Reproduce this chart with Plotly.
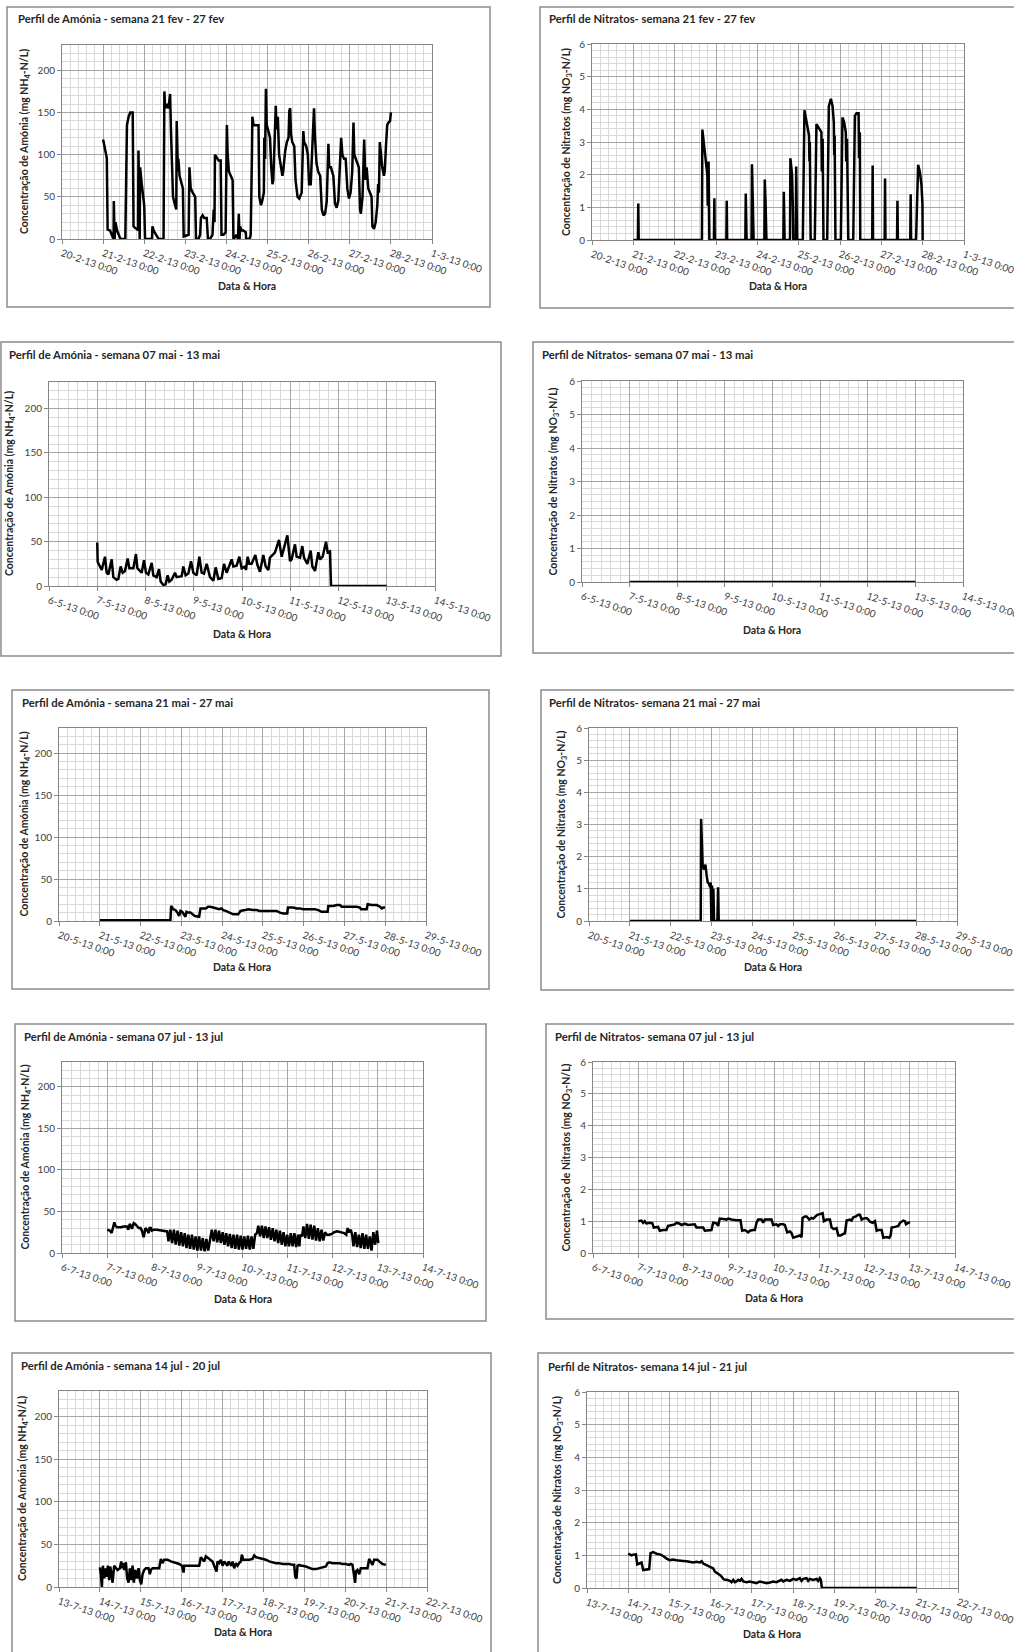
import plotly.graph_objects as go
import pandas as pd

W, H = 1014, 1652

# ------------------------------------------------------------------ data
TITLES = [
    "Perfil de Amónia - semana 21 fev - 27 fev",
    "Perfil de Nitratos- semana 21 fev - 27 fev",
    "Perfil de Amónia - semana 07 mai - 13 mai",
    "Perfil de Nitratos- semana 07 mai - 13 mai",
    "Perfil de Amónia - semana 21 mai - 27 mai",
    "Perfil de Nitratos- semana 21 mai - 27 mai",
    "Perfil de Amónia - semana 07 jul - 13 jul",
    "Perfil de Nitratos- semana 07 jul - 13 jul",
    "Perfil de Amónia - semana 14 jul - 20 jul",
    "Perfil de Nitratos- semana 14 jul - 21 jul",
]
START_DATES = ["2013-02-20", "2013-02-20", "2013-05-06", "2013-05-06", "2013-05-20",
               "2013-05-20", "2013-07-06", "2013-07-06", "2013-07-13", "2013-07-13"]
SPAN_DAYS = [9, 9, 8, 8, 9, 9, 8, 8, 9, 9]
KINDS = ["nh4", "no3"] * 5

Y_LABEL = {"nh4": "Concentração de Amónia (mg NH<sub>4</sub>-N/L)",
           "no3": "Concentração de Nitratos (mg NO<sub>3</sub>-N/L)"}
X_LABEL = "Data & Hora"
Y_SCALE = {"nh4": dict(top=230, major=50, minor=10),
           "no3": dict(top=6, major=1, minor=0.2)}
X_TICK_FORMAT = "%-d-%-m-%y %-H:%M"

# day offsets from the panel start date, and concentrations
nh4_feb_days = [1.00,1.09,1.11,1.17,1.21,1.255,1.26,1.28,1.30,1.34,
                1.38,1.42,1.54,1.55,1.58,1.62,1.66,1.72,1.74,1.78,
                1.82,1.85,1.86,1.89,1.90,1.94,2.00,2.02,2.19,2.20,
                2.23,2.29,2.35,2.47,2.49,2.51,2.55,2.59,2.63,2.65,
                2.67,2.70,2.75,2.78,2.79,2.82,2.83,2.86,2.91,2.94,
                2.96,3.08,3.10,3.13,3.18,3.24,3.26,3.32,3.36,3.38,
                3.42,3.46,3.52,3.55,3.60,3.66,3.69,3.71,3.72,3.77,
                3.81,3.86,3.88,3.93,3.98,4.01,4.03,4.06,4.11,4.15,
                4.17,4.21,4.25,4.28,4.30,4.32,4.33,4.37,4.41,4.47,
                4.48,4.56,4.59,4.62,4.63,4.66,4.75,4.78,4.80,4.84,
                4.87,4.91,4.92,4.94,4.96,4.98,5.02,5.06,5.09,5.12,
                5.14,5.20,5.22,5.25,5.28,5.32,5.36,5.38,5.43,5.47,
                5.51,5.53,5.55,5.57,5.60,5.65,5.68,5.73,5.77,5.83,
                5.85,5.87,5.89,5.94,5.98,6.01,6.05,6.09,6.13,6.15,
                6.19,6.23,6.28,6.32,6.36,6.40,6.44,6.48,6.50,6.54,
                6.57,6.60,6.64,6.68,6.72,6.76,6.79,6.82,6.86,6.90,
                6.94,6.98,7.02,7.06,7.09,7.11,7.15,7.19,7.22,7.25,
                7.27,7.31,7.35,7.38,7.41,7.45,7.49,7.53,7.55,7.59,
                7.63,7.67,7.69,7.71,7.73,7.76,7.79,7.83,7.85,7.88,
                7.91,7.94,7.98,8.00]
nh4_feb = [118,96,11,10,5,0,45,0,20,10,
           5,0,0,38,135,145,150,150,15,13,
           12,10,105,0,85,65,40,0,0,15,
           10,5,0,0,175,155,160,155,172,130,
           80,50,40,35,140,80,95,75,65,60,
           3,5,85,60,55,50,0,0,5,25,
           28,25,25,0,0,5,35,20,100,95,
           93,93,5,5,8,135,100,80,75,70,
           0,3,5,0,30,0,15,10,10,8,
           0,0,5,100,145,135,135,135,50,40,
           45,55,120,95,178,135,128,120,85,65,
           70,158,130,145,100,85,75,80,105,115,
           120,152,155,125,115,110,70,50,48,55,
           85,128,115,110,100,65,65,105,155,125,
           90,80,75,35,28,30,45,113,85,85,
           80,75,42,37,45,85,120,100,95,95,
           60,48,55,80,138,100,95,90,85,35,
           30,50,118,70,85,60,55,50,15,12,
           20,40,65,55,115,95,85,75,80,110,
           135,138,140,150]

no3_feb_days = [1.00,1.11,1.12,1.13,
                2.66,2.67,2.72,2.76,2.79,2.80,2.82,2.84,
                2.95,2.96,2.97, 3.25,3.26,3.27, 3.71,3.72,3.74,
                3.86,3.87,3.89,3.91, 4.17,4.18,4.20,4.22, 4.63,4.64,4.66,
                4.79,4.80,4.84,4.86,4.87, 4.93,4.94,4.96,
                5.10,5.14,5.19,5.23,5.25,5.26,5.27,5.29,
                5.39,5.43,5.47,5.51,5.55,5.56,5.58,5.60,
                5.69,5.73,5.78,5.82,5.85,5.86,5.87,5.89,
                6.02,6.06,6.10,6.14,6.15,6.17,6.20,
                6.32,6.36,6.40,6.45,6.46,6.48,6.49,
                6.78,6.79,6.80, 7.08,7.09,7.10, 7.38,7.39,7.40, 7.70,7.71,7.72,
                7.84,7.89,7.93,7.97,7.995,8.00]
no3_feb = [0,0,1.12,0,
           0,3.38,2.8,2.3,2.0,1.05,2.4,0,
           0,1.28,0, 0,1.2,0, 0,1.42,0,
           0,2.32,1.2,0, 0,1.85,1.1,0, 0,1.48,0,
           0,2.5,2.0,1.0,0, 0,2.25,0,
           0,3.97,3.6,3.4,3.2,2.4,3.0,0,
           0,3.55,3.45,3.4,3.3,2.1,3.1,0,
           0,4.1,4.32,4.1,3.6,2.6,3.2,0,
           0,3.75,3.6,3.3,2.4,3.1,0,
           0,3.8,3.88,3.88,2.5,3.3,0,
           0,2.28,0, 0,1.88,0, 0,1.2,0, 0,1.4,0,
           0,2.3,2.1,1.7,1.1,0]

nh4_may07_days = [1.00,1.009,1.057,1.092,1.161,1.195,1.230,1.299,1.333,1.402,
                  1.437,1.485,1.527,1.575,1.630,1.665,1.748,1.803,1.831,1.886,
                  1.921,1.969,2.010,2.059,2.128,2.162,2.231,2.280,2.314,2.370,
                  2.418,2.459,2.494,2.542,2.611,2.646,2.750,2.784,2.832,2.888,
                  2.943,2.991,3.060,3.116,3.164,3.212,3.268,3.337,3.406,3.454,
                  3.510,3.579,3.627,3.682,3.786,3.820,3.889,3.945,3.993,4.062,
                  4.083,4.117,4.152,4.200,4.276,4.318,4.373,4.442,4.491,4.546,
                  4.580,4.636,4.684,4.767,4.822,4.940,4.995,5.029,5.098,5.133,
                  5.202,5.250,5.285,5.354,5.423,5.458,5.513,5.582,5.617,5.672,
                  5.741,5.775,5.824,5.845,6.998]
nh4_may07 = [49,27,22,18,33,15,13,30,10,7,
             8,22,15,17,31,20,20,36,20,17,
             15,29,15,13,26,12,10,19,5,1,
             2,12,5,7,15,10,11,22,12,14,
             28,15,12,33,15,14,25,10,6,21,
             8,9,25,15,30,22,23,33,20,22,
             18,33,25,25,35,24,16,35,22,18,
             32,35,38,52,33,57,28,30,47,33,
             32,45,32,25,40,22,17,38,30,33,
             50,38,39,0,0]

no3_may07_days = [1.0, 2.0, 3.0, 4.0, 5.0, 6.0, 7.0]
no3_may07 = [0, 0, 0, 0, 0, 0, 0]

nh4_may21_days = [1.00,2.733,2.750,2.799,2.856,2.905,2.946,2.979,3.020,3.061,
                  3.101,3.126,3.167,3.224,3.273,3.331,3.437,3.470,3.535,3.601,
                  3.658,3.699,3.781,3.863,3.928,3.985,4.026,4.092,4.149,4.190,
                  4.272,4.395,4.452,4.558,4.640,4.763,4.845,4.926,5.090,5.254,
                  5.336,5.417,5.499,5.597,5.614,5.745,5.826,5.908,5.990,6.072,
                  6.154,6.277,6.358,6.440,6.588,6.604,6.727,6.808,6.890,6.931,
                  7.054,7.177,7.299,7.381,7.406,7.545,7.570,7.668,7.791,7.872,
                  7.913,7.954,7.995]
nh4_may21 = [1,1,18,14,13,10,6,12,11,7,
             5,11,10,10,8,6,5,15,15,15,
             17,17,16,15,14,15,13,12,11,10,
             8,8,12,13,14,13,13,12,12,12,
             12,10,9,9,16,16,15,15,14,14,
             14,14,13,11,11,18,18,19,19,17,
             17,17,17,16,14,14,20,19,19,17,
             15,16,16]

no3_may21_days = [1.00,2.732,2.741,2.765,2.781,2.814,2.847,2.879,2.904,2.936,
                  2.961,2.977,2.993,3.010,3.026,3.042,3.059,3.140,3.157,3.173,8.00]
no3_may21 = [0,0,3.17,2.3,1.7,1.6,1.75,1.4,1.2,1.15,
             1.05,1.2,0,1.1,0,1.0,0,0,1.05,0,0]

nh4_jul07_days = [1.00,1.06,1.10,1.13,1.16,1.18,1.22,1.30,1.37,1.44,
                  1.47,1.50,1.53,1.55,1.59,1.62,1.66,1.70,1.74,1.77,
                  1.81,1.85,1.88,1.92,1.94,1.97,1.99,2.03,2.10,2.18,
                  2.25,2.33,2.36,2.40,2.44,2.48,2.52,2.56,2.60,2.64,
                  2.68,2.72,2.76,2.80,2.84,2.88,2.92,2.96,3.00,3.04,
                  3.08,3.12,3.16,3.20,3.24,3.28,3.32,3.36,3.40,3.44,
                  3.48,3.52,3.56,3.60,3.64,3.68,3.72,3.76,3.80,3.84,
                  3.88,3.92,3.96,4.00,4.04,4.08,4.12,4.16,4.20,4.24,
                  4.28,4.32,4.35,4.39,4.43,4.47,4.51,4.55,4.59,4.63,
                  4.67,4.71,4.75,4.79,4.83,4.87,4.91,4.95,4.99,5.03,
                  5.07,5.11,5.15,5.19,5.23,5.26,5.28,5.32,5.35,5.39,
                  5.43,5.47,5.51,5.55,5.59,5.63,5.67,5.71,5.75,5.79,
                  5.83,5.87,5.92,5.98,6.03,6.10,6.18,6.25,6.30,6.33,
                  6.36,6.40,6.43,6.46,6.50,6.54,6.58,6.62,6.66,6.70,
                  6.74,6.78,6.82,6.86,6.90,6.94,6.98,7.01]
nh4_jul07 = [28,27,24,33,37,33,31,31,32,32,
             28,35,33,29,36,35,33,30,30,27,
             19,30,28,24,30,30,27,28,28,27,
             27,26,14,28,12,28,10,27,9,25,
             8,24,6,22,5,22,4,20,3,20,
             3,18,2,17,3,18,28,14,28,13,
             27,12,25,10,24,8,23,6,22,5,
             22,4,21,4,20,5,21,4,20,5,
             22,24,33,20,33,18,32,18,31,16,
             30,14,28,12,27,10,25,8,22,8,
             24,8,24,7,22,8,22,20,32,18,
             35,17,34,16,33,15,30,14,28,15,
             25,22,22,23,25,26,25,24,22,30,
             25,28,22,8,25,7,22,6,24,5,
             22,5,20,3,25,10,27,12]

no3_jul07_days = [1.00,1.069,1.106,1.143,1.180,1.254,1.313,1.342,1.438,1.475,
                  1.549,1.622,1.659,1.733,1.807,1.844,1.917,1.954,2.028,2.102,
                  2.175,2.249,2.286,2.360,2.434,2.470,2.544,2.618,2.655,2.729,
                  2.765,2.802,2.876,2.950,2.987,3.060,3.171,3.260,3.296,3.355,
                  3.429,3.466,3.540,3.577,3.614,3.650,3.724,3.761,3.798,3.872,
                  3.945,3.982,4.056,4.093,4.130,4.204,4.240,4.292,4.351,4.388,
                  4.425,4.462,4.535,4.572,4.609,4.631,4.683,4.720,4.779,4.830,
                  4.867,4.904,4.956,5.015,5.074,5.103,5.162,5.236,5.273,5.324,
                  5.383,5.420,5.472,5.531,5.568,5.605,5.678,5.715,5.752,5.811,
                  5.863,5.900,5.937,5.973,6.047,6.084,6.121,6.180,6.231,6.268,
                  6.305,6.379,6.416,6.490,6.549,6.578,6.600,6.674,6.748,6.785,
                  6.858,6.895,6.917,6.969,7.006]
no3_jul07 = [1.0,1.02,0.95,1.0,0.93,0.95,0.93,0.8,0.82,0.7,
             0.72,0.72,0.85,0.87,0.9,0.95,0.92,0.88,0.92,0.88,
             0.9,0.9,0.8,0.8,0.8,0.7,0.72,0.72,0.95,0.93,
             0.85,1.08,1.07,1.05,1.08,1.05,1.03,1.03,0.7,0.72,
             0.65,0.7,0.72,0.72,0.95,1.05,1.05,0.95,1.05,1.05,
             1.05,0.88,0.9,0.85,0.9,0.9,0.88,0.65,0.68,0.62,
             0.48,0.5,0.52,0.55,0.5,1.1,1.15,1.15,1.05,1.1,
             1.08,1.12,1.2,1.22,1.25,1.0,1.05,1.05,0.8,0.75,
             0.78,0.55,0.55,0.6,0.62,1.02,1.05,1.02,1.12,1.15,
             1.2,1.2,1.05,1.08,1.1,1.05,0.98,0.95,1.0,0.7,
             0.72,0.72,0.48,0.5,0.48,0.55,0.8,0.82,0.85,0.95,
             1.02,1.0,0.9,0.95,0.97]

nh4_jul14_days = [1.000,1.024,1.049,1.073,1.106,1.130,1.163,1.196,1.228,1.253,
                  1.285,1.310,1.350,1.391,1.432,1.489,1.522,1.554,1.571,1.595,
                  1.636,1.668,1.701,1.733,1.766,1.799,1.831,1.864,1.905,1.945,
                  1.978,2.011,2.043,2.084,2.125,2.190,2.223,2.247,2.288,2.369,
                  2.451,2.491,2.532,2.573,2.654,2.736,2.858,2.940,3.005,3.046,
                  3.062,3.143,3.266,3.429,3.469,3.510,3.551,3.592,3.673,3.755,
                  3.795,3.836,3.853,3.877,3.918,3.959,4.000,4.040,4.081,4.121,
                  4.146,4.179,4.219,4.244,4.285,4.326,4.366,4.407,4.448,4.472,
                  4.505,4.570,4.652,4.733,4.774,4.815,4.896,4.978,5.059,5.141,
                  5.222,5.304,5.385,5.467,5.548,5.630,5.711,5.752,5.777,5.809,
                  5.833,5.874,5.915,5.956,6.037,6.119,6.200,6.282,6.363,6.445,
                  6.526,6.567,6.607,6.689,6.770,6.852,6.933,7.015,7.096,7.137,
                  7.178,7.218,7.243,7.259,7.300,7.341,7.381,7.463,7.544,7.585,
                  7.626,7.667,7.707,7.789,7.830,7.870,7.911,7.993]
nh4_jul14 = [23,15,0,25,10,22,12,25,8,24,
             15,5,25,22,20,22,30,22,28,20,
             29,10,5,22,8,25,5,20,10,22,
             8,3,15,20,22,22,15,20,22,22,
             22,33,28,32,32,30,28,27,25,17,
             25,25,25,25,35,32,30,36,33,30,
             25,20,18,30,28,32,25,30,28,25,
             30,28,25,30,22,28,25,28,30,38,
             32,32,32,33,37,35,34,33,32,30,
             29,28,28,27,27,27,26,26,12,10,
             25,26,25,25,24,22,21,21,22,23,
             24,28,29,28,28,28,27,27,26,27,
             26,15,5,18,20,15,22,22,22,33,
             30,26,32,32,30,28,27,26]

no3_jul14_days = [1.000,1.040,1.081,1.121,1.186,1.218,1.283,1.323,1.364,1.445,
                  1.509,1.542,1.606,1.687,1.768,1.849,1.889,1.930,2.011,2.091,
                  2.172,2.253,2.334,2.415,2.496,2.576,2.657,2.738,2.779,2.819,
                  2.900,2.981,3.061,3.102,3.183,3.223,3.264,3.304,3.344,3.385,
                  3.466,3.506,3.547,3.587,3.627,3.668,3.708,3.749,3.789,3.870,
                  3.951,4.032,4.112,4.193,4.274,4.355,4.436,4.517,4.597,4.678,
                  4.719,4.759,4.840,4.921,5.002,5.082,5.163,5.204,5.244,5.325,
                  5.365,5.406,5.487,5.568,5.608,5.648,5.673,5.697,5.891,8.000]
no3_jul14 = [1.05,1.02,1.0,1.02,1.03,0.72,0.75,0.78,0.55,0.57,
             0.58,1.07,1.1,1.05,1.03,0.98,0.93,0.9,0.85,0.87,
             0.85,0.85,0.83,0.82,0.8,0.78,0.8,0.78,0.82,0.75,
             0.7,0.65,0.6,0.5,0.45,0.4,0.35,0.28,0.25,0.25,
             0.22,0.18,0.25,0.18,0.2,0.25,0.22,0.28,0.2,0.18,
             0.2,0.18,0.15,0.2,0.18,0.15,0.17,0.2,0.18,0.22,
             0.25,0.2,0.25,0.22,0.28,0.25,0.3,0.22,0.28,0.3,
             0.22,0.28,0.25,0.28,0.22,0.3,0.25,0.01,0,0]

SERIES = [
    (nh4_feb_days, nh4_feb), (no3_feb_days, no3_feb),
    (nh4_may07_days, nh4_may07), (no3_may07_days, no3_may07),
    (nh4_may21_days, nh4_may21), (no3_may21_days, no3_may21),
    (nh4_jul07_days, nh4_jul07), (no3_jul07_days, no3_jul07),
    (nh4_jul14_days, nh4_jul14), (no3_jul14_days, no3_jul14),
]

# ------------------------------------------------------------------ layout geometry (pixels)
# plot area (x0, x1, y0, y1), frame box (x0, y0, x1, y1), title (x, y),
# x-axis title centre (x, y), y-axis title centre x
GEOM = [
    dict(plot=(62, 432, 45, 239),     box=(7, 7, 490, 307),        title=(16, 19),    xt=(247, 286),   yt=25),
    dict(plot=(592, 964, 44, 240),    box=(540, 7, 1020, 308),     title=(547, 19),   xt=(778, 286),   yt=567),
    dict(plot=(49, 435, 382, 586),    box=(1, 342, 501, 656),      title=(7, 354),    xt=(242, 634),   yt=10),
    dict(plot=(582, 963, 381, 582),   box=(533, 342, 1020, 653),   title=(540, 354),  xt=(772, 630),   yt=553),
    dict(plot=(59, 426, 728, 921),    box=(12, 690, 489, 989),     title=(20, 703),   xt=(242, 967),   yt=24),
    dict(plot=(589, 957, 728, 921),   box=(541, 690, 1020, 990),   title=(547, 702),  xt=(773, 967),   yt=561),
    dict(plot=(62, 423, 1062, 1253),  box=(15, 1024, 486, 1321),   title=(22, 1036),  xt=(243, 1299),  yt=25),
    dict(plot=(593, 955, 1062, 1253), box=(546, 1024, 1020, 1319), title=(553, 1036), xt=(774, 1298),  yt=566),
    dict(plot=(59, 427, 1391, 1587),  box=(12, 1353, 491, 1665),   title=(19, 1365),  xt=(243, 1632),  yt=23),
    dict(plot=(587, 958, 1392, 1588), box=(538, 1353, 1020, 1665), title=(546, 1366), xt=(772, 1634),  yt=558),
]

FONT = "Lato, 'Open Sans', sans-serif"
MAJOR_GRID = "#a6a6a6"
MINOR_GRID = "#d9d9d9"
AXIS_LINE = "#868686"
TICK_COLOR = "#404040"
TEXT_COLOR = "#262626"


def px(x):
    return x / W


def py(y):
    return 1 - y / H


fig = go.Figure()
layout = dict(
    width=W, height=H, margin=dict(l=0, r=0, t=0, b=0),
    paper_bgcolor="white", plot_bgcolor="white", showlegend=False,
    template="none", font=dict(family=FONT, color=TEXT_COLOR),
)
shapes, annotations = [], []
DAY_MS = 86400000

for i in range(10):
    g = GEOM[i]
    kind = KINDS[i]
    days, vals = SERIES[i]
    start = pd.Timestamp(START_DATES[i])
    xs = [start + pd.to_timedelta(d, unit="D") for d in days]
    end = start + pd.Timedelta(days=SPAN_DAYS[i])
    sfx = "" if i == 0 else str(i + 1)
    fig.add_trace(go.Scatter(
        x=xs, y=vals, mode="lines", line=dict(color="black", width=2.5),
        xaxis="x" + sfx, yaxis="y" + sfx, hoverinfo="skip"))

    x0, x1, y0, y1 = g["plot"]
    sc = Y_SCALE[kind]
    layout["xaxis" + sfx] = dict(
        type="date", domain=[px(x0), px(x1)], anchor="y" + sfx,
        range=[start, end], tick0=start, dtick=DAY_MS, tickformat=X_TICK_FORMAT,
        tickangle=19, tickfont=dict(size=10, color=TICK_COLOR, family=FONT),
        ticklabeloverflow="allow",
        showgrid=True, gridcolor=MAJOR_GRID, gridwidth=1,
        minor=dict(dtick=DAY_MS / 5, showgrid=True, gridcolor=MINOR_GRID, gridwidth=1),
        showline=True, linecolor=AXIS_LINE, linewidth=1, mirror=True,
        ticks="outside", ticklen=4, tickcolor=AXIS_LINE, zeroline=False,
        automargin=False, fixedrange=True,
    )
    layout["yaxis" + sfx] = dict(
        domain=[py(y1), py(y0)], anchor="x" + sfx,
        range=[0, sc["top"]], tick0=0, dtick=sc["major"],
        tickfont=dict(size=10, color=TICK_COLOR, family=FONT),
        showgrid=True, gridcolor=MAJOR_GRID, gridwidth=1,
        minor=dict(dtick=sc["minor"], showgrid=True, gridcolor=MINOR_GRID, gridwidth=1),
        showline=True, linecolor=AXIS_LINE, linewidth=1, mirror=True,
        ticks="outside", ticklen=4, tickcolor=AXIS_LINE, zeroline=False,
        automargin=False, fixedrange=True,
    )

    bx0, by0, bx1, by1 = g["box"]
    shapes.append(dict(type="rect", xref="paper", yref="paper",
                       x0=px(bx0), x1=px(bx1), y0=py(by1), y1=py(by0),
                       line=dict(color="#8c8c8c", width=1.5), layer="below"))

    tx, ty = g["title"]
    annotations.append(dict(text="<b>" + TITLES[i] + "</b>", xref="paper", yref="paper",
                            x=px(tx), y=py(ty), xanchor="left", yanchor="middle",
                            showarrow=False, font=dict(size=11.3, color=TEXT_COLOR, family=FONT)))
    cx, cy = g["xt"]
    annotations.append(dict(text="<b>" + X_LABEL + "</b>", xref="paper", yref="paper",
                            x=px(cx), y=py(cy), xanchor="center", yanchor="middle",
                            showarrow=False, font=dict(size=10.5, color=TEXT_COLOR, family=FONT)))
    annotations.append(dict(text="<b>" + Y_LABEL[kind] + "</b>", xref="paper", yref="paper",
                            x=px(g["yt"]), y=py((y0 + y1) / 2), xanchor="center", yanchor="middle",
                            textangle=-90, showarrow=False,
                            font=dict(size=10.5, color=TEXT_COLOR, family=FONT)))

layout["shapes"] = shapes
layout["annotations"] = annotations
fig.update_layout(**layout)
fig.write_html("out.html", config={"displayModeBar": False},
               post_script="document.body.style.margin='0';document.body.style.overflow='hidden';")
